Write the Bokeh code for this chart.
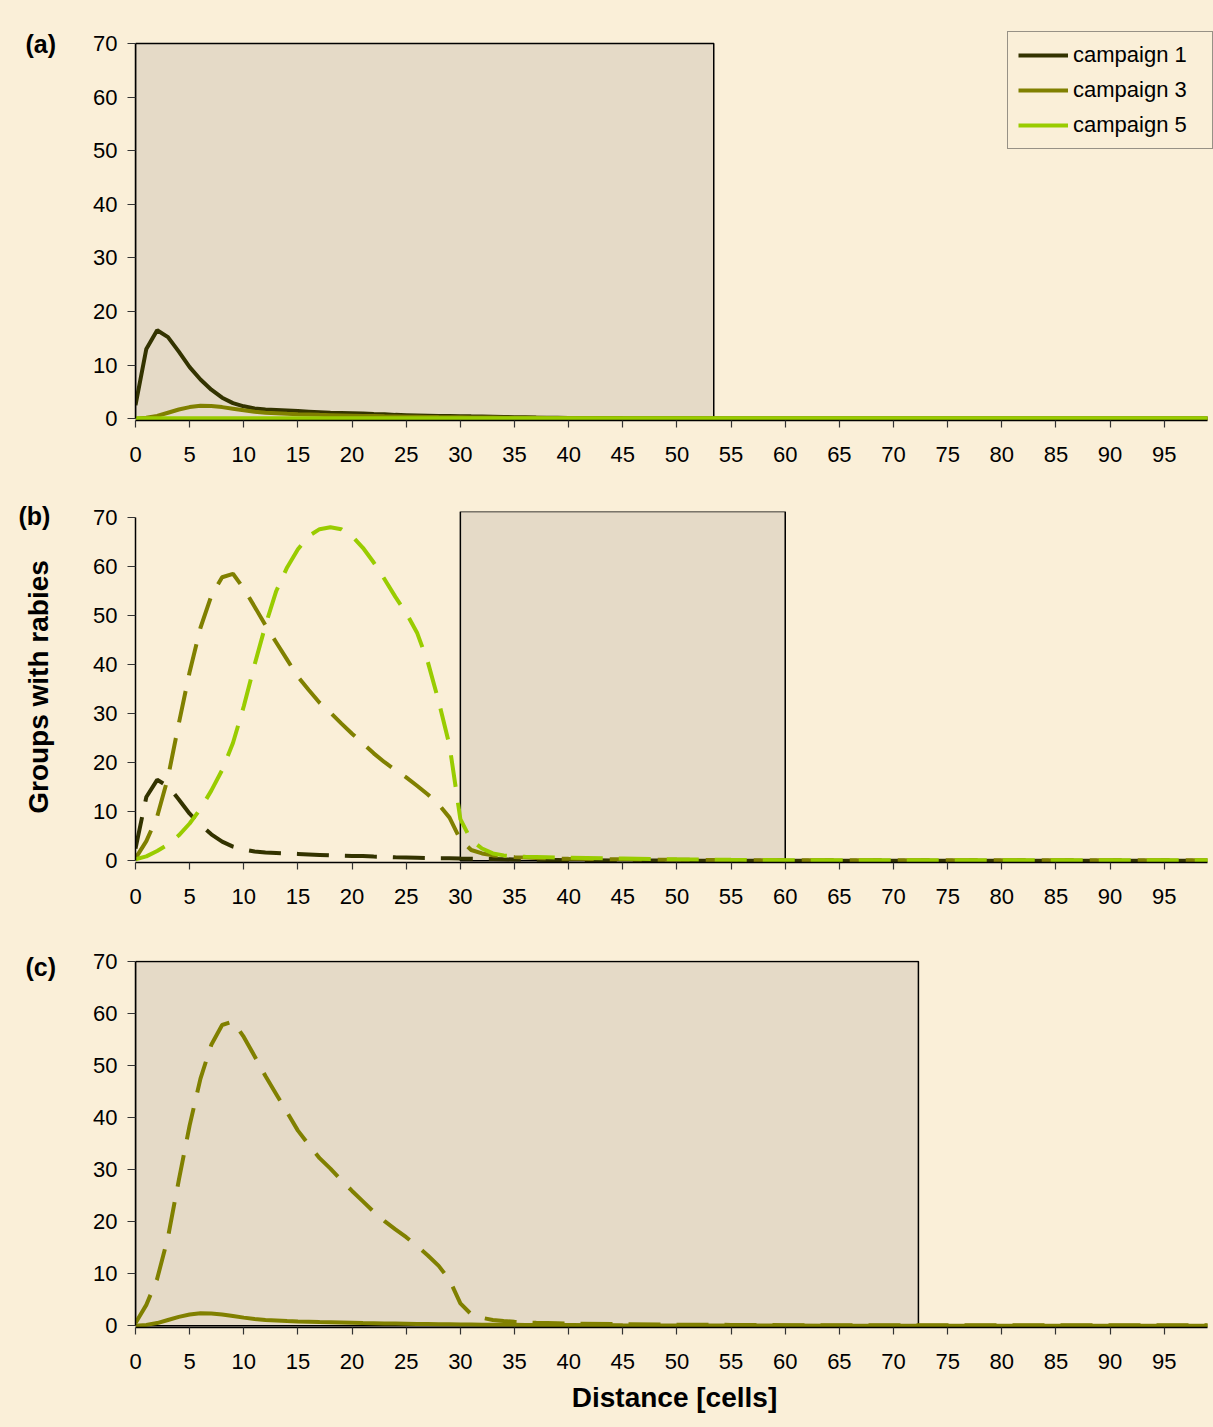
from bokeh.plotting import figure
from bokeh.models import Range1d, Legend, LegendItem, FixedTicker, Title
from bokeh.layouts import column
from bokeh.embed import file_html
from bokeh.resources import INLINE

# ---------------- data ----------------
distance = [0, 1, 2, 3, 4, 5, 6, 7, 8, 9, 10, 11, 12, 13, 14, 15, 16, 17, 18, 19, 20,
            21, 22, 23, 24, 25, 26, 27, 28, 29, 30, 31, 32, 33, 34, 35, 36, 37, 38, 39, 40,
            45, 50, 55, 60, 65, 70, 75, 80, 85, 90, 95, 99]

campaign1 = [2.5, 13.0, 16.5, 15.2, 12.5, 9.6, 7.3, 5.4, 3.9, 2.9, 2.3, 1.9, 1.7, 1.6, 1.5, 1.4,
             1.3, 1.2, 1.1, 1.05, 1.0, 0.95, 0.85, 0.8, 0.7, 0.65, 0.6, 0.55, 0.5, 0.5, 0.45,
             0.42, 0.4, 0.35, 0.3, 0.27, 0.24, 0.2, 0.18, 0.15, 0.12,
             0.06, 0.03, 0.01, 0.0, 0.0, 0.0, 0.0, 0.0, 0.0, 0.0, 0.0, 0.0]

campaign3 = [0.0, 0.15, 0.5, 1.1, 1.7, 2.15, 2.4, 2.35, 2.15, 1.85, 1.55, 1.3, 1.1, 1.0, 0.9, 0.82,
             0.76, 0.7, 0.65, 0.6, 0.55, 0.5, 0.47, 0.43, 0.4, 0.37, 0.34, 0.31, 0.28, 0.26, 0.24,
             0.22, 0.2, 0.19, 0.17, 0.16, 0.15, 0.14, 0.13, 0.12, 0.11,
             0.07, 0.05, 0.03, 0.02, 0.01, 0.01, 0.01, 0.01, 0.0, 0.0, 0.0, 0.0]

campaign5 = [0.05, 0.05, 0.05, 0.05, 0.05, 0.05, 0.05, 0.05, 0.05, 0.05, 0.05, 0.05, 0.05, 0.05,
             0.05, 0.05, 0.05, 0.05, 0.05, 0.05, 0.05, 0.05, 0.05, 0.05, 0.05, 0.05, 0.05, 0.05,
             0.05, 0.05, 0.05, 0.05, 0.05, 0.05, 0.05, 0.05, 0.05, 0.05, 0.05, 0.05, 0.05,
             0.05, 0.05, 0.05, 0.05, 0.05, 0.05, 0.05, 0.05, 0.05, 0.05, 0.05, 0.05]

campaign3_dashed = [0.5, 4.0, 9.0, 17.0, 28.0, 38.5, 47.5, 54.0, 57.8, 58.5, 55.5, 51.8, 48.0, 44.5,
                    41.0, 37.5, 34.8, 32.2, 30.2, 28.0, 25.9, 23.9, 21.9, 20.1, 18.5, 17.0, 15.3,
                    13.5, 11.5, 8.8, 4.3, 2.2, 1.5, 1.1, 0.9, 0.75, 0.65, 0.55, 0.5, 0.45, 0.4,
                    0.3, 0.2, 0.15, 0.1, 0.1, 0.1, 0.1, 0.1, 0.1, 0.1, 0.1, 0.1]

campaign5_dashed = [0.3, 0.9, 2.0, 3.3, 5.2, 7.6, 10.6, 14.3, 18.5, 24.0, 31.5, 40.0, 48.0, 55.0,
                    59.8, 63.5, 66.2, 67.6, 68.0, 67.6, 66.2, 63.8, 60.8, 57.4, 53.8, 50.5, 46.5,
                    40.5, 32.5, 23.5, 8.5, 4.2, 2.5, 1.5, 1.1, 0.9, 0.8, 0.75, 0.7, 0.65, 0.6,
                    0.45, 0.3, 0.2, 0.12, 0.1, 0.1, 0.1, 0.1, 0.1, 0.1, 0.1, 0.1]

# shaded zones (distance extents, top value)
zone_a = [0, 53.4]
zone_b = [30, 60]
zone_c = [0, 72.3]
zone_top = [70, 71.2, 70]

x_ticks = [0, 5, 10, 15, 20, 25, 30, 35, 40, 45, 50, 55, 60, 65, 70, 75, 80, 85, 90, 95]
y_ticks = [0, 10, 20, 30, 40, 50, 60, 70]

series_names = ["campaign 1", "campaign 3", "campaign 5"]
panel_names = ["(a)", "(b)", "(c)"]
y_title = "Groups with rabies"
x_title = "Distance [cells]"

# ---------------- styles ----------------
PARCH = "#FAEFD8"
ZONE = "#E5DAC7"
C1 = "#333300"
C3 = "#808000"
C5 = "#99CC00"
FONT = "Liberation Sans"
DASH = "32 16"
LW = 4
W = 1213


def make_fig(h, b_top, b_bottom, b_left, y_end, label, lab_offset, lab_standoff):
    p = figure(width=W, height=h,
               x_range=Range1d(0, 99.55), y_range=Range1d(-0.35, y_end),
               output_backend="svg", toolbar_location=None,
               min_border_top=b_top, min_border_bottom=b_bottom,
               min_border_left=b_left, min_border_right=0,
               background_fill_color=PARCH, border_fill_color=PARCH,
               outline_line_color=None)
    p.grid.visible = False
    p.xaxis.ticker = FixedTicker(ticks=x_ticks)
    p.yaxis.ticker = FixedTicker(ticks=y_ticks)
    p.yaxis.bounds = (0, 70)
    p.xaxis.bounds = (0, 99)
    for ax in (p.xaxis[0], p.yaxis[0]):
        ax.minor_tick_line_color = None
        ax.major_tick_in = 0
        ax.axis_line_color = "black"
        ax.axis_line_width = 1.5
        ax.major_tick_line_color = "#333333"
        ax.major_tick_line_width = 1.2
        ax.major_label_text_font = FONT
        ax.major_label_text_font_size = "22px"
        ax.major_label_text_color = "black"
    p.xaxis.major_tick_out = 7
    p.xaxis.major_label_standoff = 19
    p.yaxis.major_tick_out = 8
    p.yaxis.major_label_standoff = 10
    t = Title(text=label, align="left", text_font=FONT, text_font_size="25px",
              text_font_style="bold", text_color="black", offset=lab_offset)
    try:
        t.standoff = lab_standoff
    except Exception:
        pass
    p.add_layout(t, "above")
    return p


# ---------------- panel (a) ----------------
pa = make_fig(490, 30, 70, 135, 72.43, panel_names[0], -110, -54)
pa.quad(left=zone_a[0], right=zone_a[1], bottom=0, top=zone_top[0],
        fill_color=ZONE, line_color="black", line_width=1.5)
r1 = pa.line(distance, campaign1, line_color=C1, line_width=LW)
r3 = pa.line(distance, campaign3, line_color=C3, line_width=LW)
r5 = pa.line(distance, campaign5, line_color=C5, line_width=LW)

legend = Legend(items=[LegendItem(label=series_names[0], renderers=[r1]),
                       LegendItem(label=series_names[1], renderers=[r3]),
                       LegendItem(label=series_names[2], renderers=[r5])],
                location=(872, 271), orientation="vertical",
                glyph_width=50, glyph_height=22, label_height=22, label_width=129,
                spacing=9, padding=10, label_standoff=5,
                label_text_font=FONT, label_text_font_size="22px", label_text_color="black",
                border_line_color="#333333", border_line_width=1,
                background_fill_alpha=0)
pa.add_layout(legend)

# ---------------- panel (b) ----------------
pb = make_fig(440, 21, 68, 130, zone_top[1], panel_names[1], -117, -36)
pb.quad(left=zone_b[0], right=zone_b[1], bottom=0, top=zone_top[1],
        fill_color=ZONE, line_color="black", line_width=1.5)
pb.line(distance, campaign1, line_color=C1, line_width=LW, line_dash=DASH)
pb.line(distance, campaign3_dashed, line_color=C3, line_width=LW, line_dash=DASH)
pb.line(distance, campaign5_dashed, line_color=C5, line_width=LW, line_dash=DASH)
pb.yaxis.axis_label = y_title
pb.yaxis.axis_label_text_font = FONT
pb.yaxis.axis_label_text_font_size = "28px"
pb.yaxis.axis_label_text_font_style = "bold"
pb.yaxis.axis_label_text_color = "black"
pb.yaxis.axis_label_standoff = 36

# ---------------- panel (c) ----------------
pc = make_fig(495, 30, 98, 135, 70.2, panel_names[2], -110, -40)
pc.quad(left=zone_c[0], right=zone_c[1], bottom=0, top=zone_top[2],
        fill_color=ZONE, line_color="black", line_width=1.5)
pc.line(distance, campaign3_dashed, line_color=C3, line_width=LW, line_dash=DASH)
pc.line(distance, campaign3, line_color=C3, line_width=LW)
pc.xaxis.axis_label = x_title
pc.xaxis.axis_label_text_font = FONT
pc.xaxis.axis_label_text_font_size = "28px"
pc.xaxis.axis_label_text_font_style = "bold"
pc.xaxis.axis_label_text_color = "black"
pc.xaxis.axis_label_standoff = 10

layout = column(pa, pb, pc, spacing=0)

html = file_html(layout, INLINE)
css = "<style>html, body {margin:0; padding:0; background:%s;}</style></head>" % PARCH
html = html.replace("</head>", css, 1)
open("out.html", "w").write(html)
